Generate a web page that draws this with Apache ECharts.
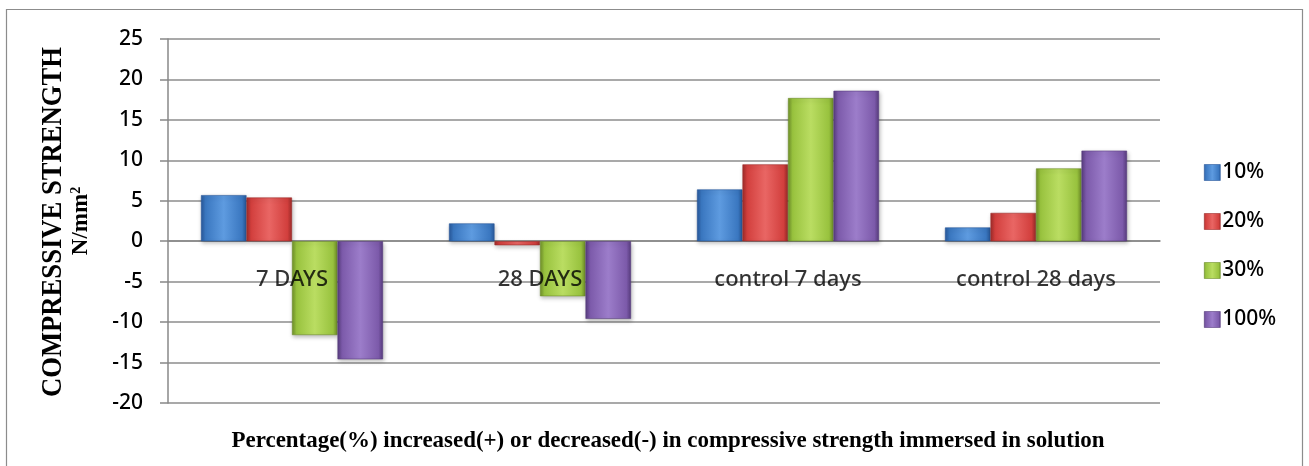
<!DOCTYPE html>
<html>
<head>
<meta charset="utf-8">
<script src="https://cdn.jsdelivr.net/npm/echarts@6/dist/echarts.min.js"></script>
<style>
  html, body { margin: 0; padding: 0; background: #fff; }
  #chart { width: 1309px; height: 466px; }
</style>
</head>
<body>
<div id="chart"></div>
<script>
// Categories and series values (percentage change in compressive strength)
const categories = ['7 DAYS', '28 DAYS', 'control 7 days', 'control 28 days'];
const seriesNames = ['10%', '20%', '30%', '100%'];
const s10 = [5.7, 2.2, 6.4, 1.7];
const s20 = [5.4, -0.5, 9.5, 3.5];
const s30 = [-11.6, -6.8, 17.7, 9.0];
const s100 = [-14.6, -9.6, 18.6, 11.2];
const zeroLine = [0, 0, 0, 0];

const yTitle = 'COMPRESSIVE STRENGTH';
const xTitle = 'Percentage(%) increased(+) or decreased(-) in compressive strength immersed in solution';

const SANS = '"Noto Sans", "Open Sans", sans-serif';
const SERIF_FONT = 'bold 24px "Liberation Serif", "Times New Roman", serif';
const YTITLE_FONT = 'bold 30px "Liberation Serif", "Times New Roman", serif';

const palette = [
  { base: '#3a77c0', light: '#5e9be0', dark: '#28589a' },
  { base: '#d23f3d', light: '#e96664', dark: '#9e2c2a' },
  { base: '#98c23e', light: '#badd62', dark: '#6f8f2a' },
  { base: '#7c5aaa', light: '#9c7dca', dark: '#573c7e' }
];

function bevel(c) {
  return new echarts.graphic.LinearGradient(0, 0, 1, 0, [
    { offset: 0, color: c.dark },
    { offset: 0.1, color: c.base },
    { offset: 0.5, color: c.light },
    { offset: 0.9, color: c.base },
    { offset: 1, color: c.dark }
  ]);
}

// scale factor that fits a text run to a given length
function fitScale(text, font, target) {
  const ctx = document.createElement('canvas').getContext('2d');
  ctx.font = font;
  return target / ctx.measureText(text).width;
}

const values = [s10, s20, s30, s100];
const series = values.map((v, i) => ({
  name: seriesNames[i],
  type: 'bar',
  data: v,
  barGap: '0%',
  barCategoryGap: '26.6%',
  itemStyle: {
    color: bevel(palette[i]),
    borderColor: palette[i].dark,
    borderWidth: 0.6,
    shadowColor: 'rgba(0,0,0,0.25)',
    shadowBlur: 4,
    shadowOffsetX: 1,
    shadowOffsetY: 2
  }
}));

// category names drawn just under the zero line, over the bars
series.push({
  name: 'categoryLabels',
  type: 'scatter',
  data: zeroLine,
  symbolSize: 0,
  z: 10,
  silent: true,
  label: {
    show: true,
    position: 'bottom',
    distance: 28,
    formatter: p => categories[p.dataIndex],
    color: '#000',
    fontSize: 22,
    fontWeight: 500,
    fontFamily: SANS
  }
});

const chart = echarts.init(document.getElementById('chart'), null, { renderer: 'canvas' });

const yScale = fitScale(yTitle, YTITLE_FONT, 350);
const xScale = fitScale(xTitle, SERIF_FONT, 873);

chart.setOption({
  animation: false,
  backgroundColor: '#fff',
  grid: { left: 168, right: 149, top: 39, bottom: 63, containLabel: false },
  legend: {
    orient: 'vertical',
    left: 1199,
    top: 157,
    itemWidth: 16,
    itemHeight: 16,
    itemGap: 28,
    icon: 'rect',
    textStyle: { fontFamily: SANS, fontSize: 21, fontWeight: 500, color: '#000', padding: [0, 0, 0, -3] },
    data: seriesNames.map((n, i) => ({ name: n, itemStyle: { color: bevel(palette[i]), borderColor: palette[i].dark, borderWidth: 0.6 } }))
  },
  xAxis: {
    type: 'category',
    data: categories,
    axisLine: { onZero: true, lineStyle: { color: '#888', width: 1.5 } },
    axisTick: { show: false },
    axisLabel: { show: false }
  },
  yAxis: {
    type: 'value',
    min: -20,
    max: 25,
    interval: 5,
    axisLine: { show: true, lineStyle: { color: '#888', width: 1.5 } },
    axisTick: { show: true, length: 8, lineStyle: { color: '#888', width: 1.5 } },
    axisLabel: { color: '#000', fontSize: 21, fontWeight: 500, margin: 25, fontFamily: SANS },
    splitLine: { lineStyle: { color: '#8c8c8c', width: 1.5 } }
  },
  graphic: [
    {
      type: 'rect', z: -10, silent: true,
      shape: { x: 6.5, y: 9.5, width: 1296, height: 470 },
      style: { fill: 'none', stroke: '#8c8c8c', lineWidth: 1.2 }
    },
    {
      type: 'text', z: 10, silent: true,
      rotation: Math.PI / 2,
      x: 53, y: 222,
      scaleX: yScale,
      style: { text: yTitle, fill: '#000', font: YTITLE_FONT, textAlign: 'center', textVerticalAlign: 'middle' }
    },
    {
      type: 'text', z: 10, silent: true,
      rotation: Math.PI / 2,
      x: 81, y: 221,
      style: {
        text: 'N/mm{sup|2}',
        rich: { sup: { fontSize: 14, fontWeight: 'bold', fontFamily: '"Liberation Serif", serif', verticalAlign: 'top', padding: [0, 0, 10, 0] } },
        fill: '#000',
        font: 'bold 23px "Liberation Serif", "Times New Roman", serif',
        textAlign: 'center',
        textVerticalAlign: 'middle'
      }
    },
    {
      type: 'text', z: 10, silent: true,
      x: 668, y: 441,
      scaleX: xScale,
      style: { text: xTitle, fill: '#000', font: SERIF_FONT, textAlign: 'center', textVerticalAlign: 'middle' }
    }
  ],
  series: series
});
</script>
</body>
</html>
